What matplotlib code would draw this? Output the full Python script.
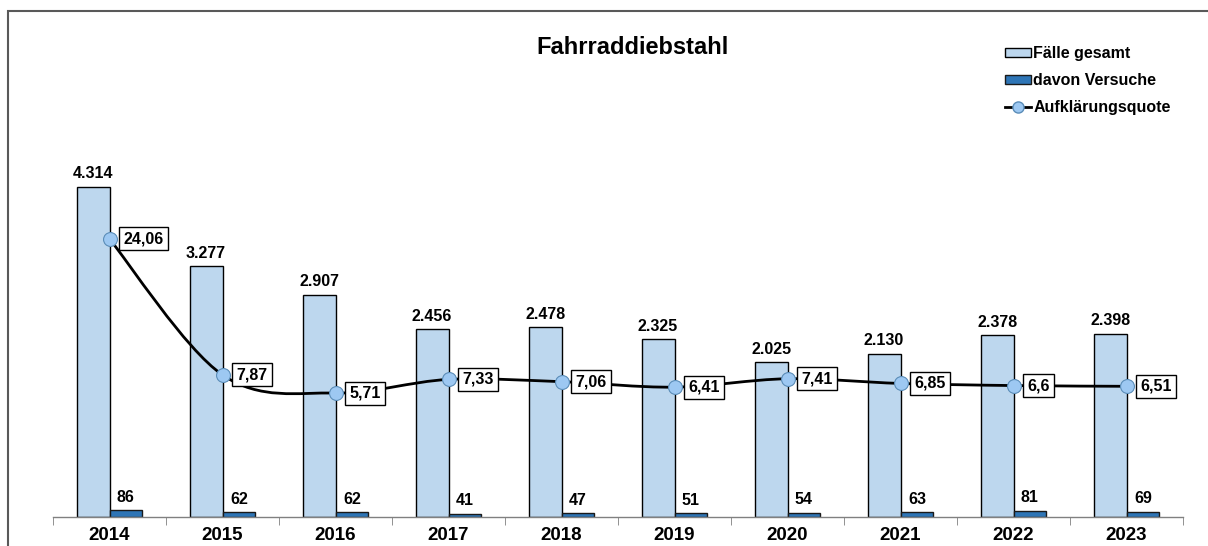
import matplotlib
matplotlib.use("Agg")
import matplotlib.pyplot as plt
from matplotlib.patches import Rectangle, Patch, PathPatch
from matplotlib.lines import Line2D
from matplotlib.path import Path
import numpy as np

plt.rcParams['font.family'] = ['Liberation Sans', 'DejaVu Sans']
plt.rcParams['font.weight'] = 'bold'

years = ["2014", "2015", "2016", "2017", "2018", "2019", "2020", "2021", "2022", "2023"]
faelle = [4314, 3277, 2907, 2456, 2478, 2325, 2025, 2130, 2378, 2398]
versuche = [86, 62, 62, 41, 47, 51, 54, 63, 81, 69]
quote = [24.06, 7.87, 5.71, 7.33, 7.06, 6.41, 7.41, 6.85, 6.6, 6.51]
faelle_labels = ["4.314", "3.277", "2.907", "2.456", "2.478", "2.325", "2.025", "2.130", "2.378", "2.398"]
quote_labels = ["24,06", "7,87", "5,71", "7,33", "7,06", "6,41", "7,41", "6,85", "6,6", "6,51"]

W, H = 1208, 546
fig = plt.figure(figsize=(W / 100, H / 100), dpi=100)

# outer frame
fig.add_artist(Rectangle((8 / W, -0.5), 2.0, 1.5 - 11 / H, transform=fig.transFigure,
                         fill=False, edgecolor='#595959', linewidth=1.5))

ax = fig.add_axes([53 / W, 1 - 517 / H, 1130 / W, 382.5 / H])
x = np.arange(len(years))
bw = 0.29
light = '#BDD7EE'
dark = '#2E75B6'
ax.bar(x - bw / 2, faelle, bw, color=light, edgecolor='black', linewidth=1.0, zorder=2)
ax.bar(x + bw / 2, versuche, bw, color=dark, edgecolor='#1A1A1A', linewidth=1.0, zorder=2)
ax.set_xlim(-0.5, len(years) - 0.5)
ax.set_ylim(0, 5000)

for xi, v, lab in zip(x, faelle, faelle_labels):
    ax.annotate(lab, (xi - bw / 2, v), xytext=(0, 4), textcoords='offset points',
                ha='center', va='bottom', fontsize=11.5, fontweight='bold')
for xi, v in zip(x, versuche):
    ax.annotate(str(v), (xi + bw / 2, v), xytext=(0, 4), textcoords='offset points',
                ha='center', va='bottom', fontsize=11.5, fontweight='bold')

for s in ['left', 'right', 'top']:
    ax.spines[s].set_visible(False)
ax.spines['bottom'].set_color('#808080')
ax.spines['bottom'].set_linewidth(1.0)
ax.set_yticks([])
ax.set_xticks(x)
ax.set_xticklabels(years, fontsize=13.5, fontweight='bold')
ax.tick_params(axis='x', which='major', length=0, pad=7)
ax.set_xticks(np.arange(-0.5, len(years)), minor=True)
ax.tick_params(axis='x', which='minor', length=6, color='#808080', direction='out')

ax2 = ax.twinx()
ax2.set_ylim(-9.05, 36.49)
ax2.axis('off')

# smoothed line (Catmull-Rom style Bezier segments)
pts = np.column_stack([x, quote]).astype(float)
verts = [tuple(pts[0])]
codes = [Path.MOVETO]
n = len(pts)
for i in range(n - 1):
    p0 = pts[i - 1] if i > 0 else pts[i]
    p1 = pts[i]
    p2 = pts[i + 1]
    p3 = pts[i + 2] if i + 2 < n else pts[i + 1]
    c1 = p1 + (p2 - p0) / 6.0
    c2 = p2 - (p3 - p1) / 6.0
    verts += [tuple(c1), tuple(c2), tuple(p2)]
    codes += [Path.CURVE4, Path.CURVE4, Path.CURVE4]
ax2.add_patch(PathPatch(Path(verts, codes), fill=False, edgecolor='black', linewidth=2.0, zorder=3))
mcol = '#9DC8F2'
ax2.plot(x, quote, linestyle='none', marker='o', markersize=10, markerfacecolor=mcol,
         markeredgecolor='#5B8DB8', markeredgewidth=0.8, zorder=4)
for xi, v, lab in zip(x, quote, quote_labels):
    ax2.annotate(lab, (xi, v), xytext=(10, 0), textcoords='offset points',
                 ha='left', va='center', fontsize=11.5, fontweight='bold', zorder=5,
                 bbox=dict(boxstyle='square,pad=0.25', facecolor='white', edgecolor='black', linewidth=1.0))

fig.text(632 / W, 1 - 47 / H, 'Fahrraddiebstahl', ha='center', va='center',
         fontsize=17, fontweight='bold')

handles = [Patch(facecolor=light, edgecolor='black', linewidth=1.0),
           Patch(facecolor=dark, edgecolor='#1A1A1A', linewidth=1.0),
           Line2D([], [], color='black', linewidth=2, marker='o', markersize=8,
                  markerfacecolor=mcol, markeredgecolor='#5B8DB8')]
fig.legend(handles, ['Fälle gesamt', 'davon Versuche', 'Aufklärungsquote'],
           loc='upper left', bbox_to_anchor=(994 / W, 1 - 35 / H), frameon=False,
           prop={'size': 11.5, 'weight': 'bold'}, handlelength=1.6, handleheight=0.45,
           handletextpad=0.15, labelspacing=0.75, borderpad=0.2)

fig.savefig('out.png', dpi=100)
